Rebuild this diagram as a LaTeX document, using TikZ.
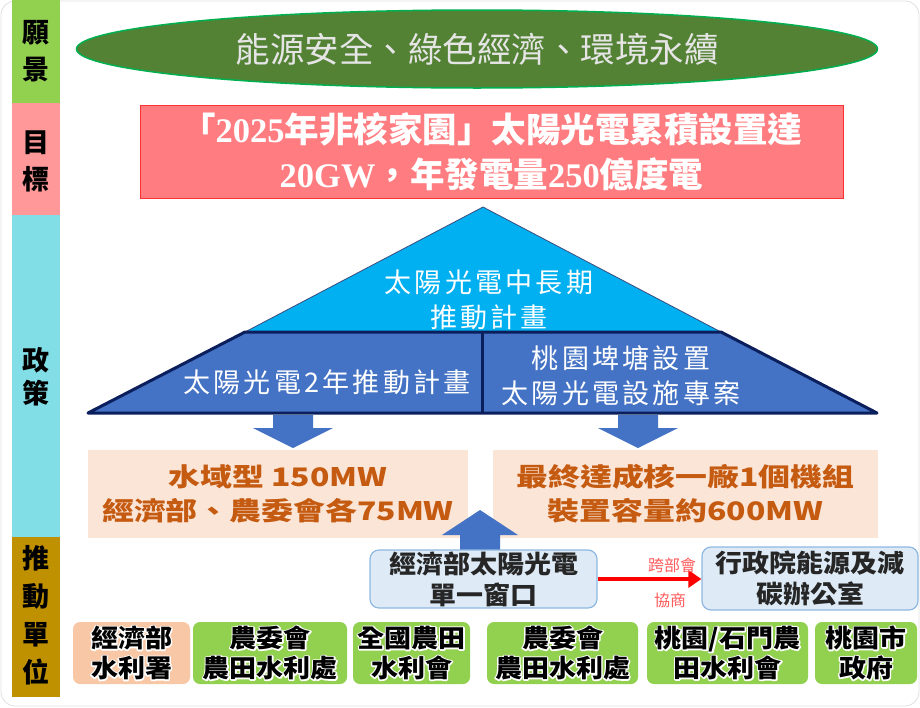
\documentclass[tikz,border=0pt]{standalone}
\usepackage{graphicx}
\usepackage{fontspec}
\newfontfamily\cjk{Noto Sans CJK TC}
\newfontfamily\cjkls[LetterSpace=12]{Noto Sans CJK TC}
\newfontfamily\tnr{Liberation Serif}
\usetikzlibrary{shapes.geometric,arrows.meta}
\definecolor{colGreen}{HTML}{92D050}
\definecolor{colPink}{HTML}{FF9999}
\definecolor{colCyan}{HTML}{82DEE6}
\definecolor{colGold}{HTML}{BF9000}
\definecolor{ellFill}{HTML}{548235}
\definecolor{ellLine}{HTML}{00B050}
\definecolor{tgtFill}{HTML}{FF7C80}
\definecolor{tgtLine}{HTML}{FF3030}
\definecolor{pyrTop}{HTML}{00B0F0}
\definecolor{pyrBot}{HTML}{4472C4}
\definecolor{navy}{HTML}{0B1F5C}
\definecolor{peach}{HTML}{FBE5D6}
\definecolor{rust}{HTML}{C55A11}
\definecolor{winFill}{HTML}{DEEBF7}
\definecolor{winLine}{HTML}{8FB8E0}
\definecolor{unitOrange}{HTML}{F8C8A6}
\definecolor{unitGreen}{HTML}{92D050}
\definecolor{coordRed}{HTML}{FF5A5A}
\newcommand{\halo}[1]{\leavevmode\rlap{\special{pdf:literal direct 1 Tr 2.6 w 1 1 1 RG 1 j}#1\special{pdf:literal direct 0 Tr 0 0 0 RG 0.4 w}}#1}
\newcommand{\hsx}[2]{\scalebox{#1}[1]{#2}}
\newcommand{\uline}[1]{\hsx{1.08}{\halo{#1}}}
\tikzset{
  collbl/.style={align=center, text=black, inner sep=0pt},
  pyrtxt/.style={align=center, text=white, inner sep=0pt, font=\cjkls\fontsize{27}{35}\selectfont},
  resbox/.style={fill=peach, draw=none, align=center, text=rust, inner sep=0pt,
    font=\cjk\bfseries\fontsize{25.5}{34}\selectfont},
  winbox/.style={fill=winFill, draw=winLine, line width=1.2pt, rounded corners=9pt, align=center,
    text=black!85, inner sep=0pt, font=\cjk\bfseries\fontsize{25}{31}\selectfont},
  unitbox/.style={rounded corners=7pt, align=center, inner sep=0pt, minimum height=62pt,
    text=black, font=\cjk\bfseries\fontsize{25}{30}\selectfont},
  blockarrow/.style={fill=pyrBot, draw=none},
  redlbl/.style={text=coordRed, inner sep=0pt, font=\cjk\fontsize{16}{18}\selectfont}
}
\begin{document}
\begin{tikzpicture}[x=1pt,y=-1pt]
\useasboundingbox (0,0) rectangle (920,707);
\draw[black!12, line width=0.8pt, rounded corners=14pt] (1,1) rectangle (919,706);
% left column
\fill[colGreen] (12,0) rectangle (60,103);
\fill[colPink] (12,103) rectangle (60,215);
\fill[colCyan] (12,215) rectangle (60,537);
\fill[colGold] (12,537) rectangle (60,697);
\node[collbl, font=\cjk\bfseries\fontsize{27}{37}\selectfont] (lvision) at (36,51.5) {願\\景};
\node[collbl, font=\cjk\bfseries\fontsize{27}{37}\selectfont] (lgoal) at (36,161.5) {目\\標};
\node[collbl, font=\cjk\bfseries\fontsize{27}{33}\selectfont] (lpolicy) at (36,376.5) {政\\策};
\node[collbl, font=\cjk\bfseries\fontsize{27}{38}\selectfont] (lunit) at (36,615.5) {推\\動\\單\\位};
% vision
\node[ellipse, fill=ellFill, draw=ellLine, line width=1.5pt, minimum width=801pt, minimum height=78pt,
  inner sep=0pt, text=white!90!black, font=\cjk\fontsize{34.5}{37}\selectfont] (vision) at (477,49)
  {能源安全、綠色經濟、環境永續};
% goal
\node[fill=tgtFill, draw=tgtLine, line width=1pt, minimum width=703pt, minimum height=93pt,
  align=center, text=white, inner sep=0pt, font=\cjk\bfseries\fontsize{34.5}{45}\selectfont] (goal) at (491.5,152)
  {「{\tnr\bfseries 2025}年非核家園」太陽光電累積設置達\\{\tnr\bfseries 20GW}，年發電量{\tnr\bfseries 250}億度電};
% pyramid
\coordinate (apex) at (483,207);
\coordinate (tl) at (245,332);
\coordinate (tr) at (721,332);
\coordinate (bl) at (88,413);
\coordinate (br) at (877,413);
\coordinate (dtop) at (482,332);
\coordinate (dbot) at (482,413);
\filldraw[fill=pyrTop, draw=navy!80, line width=0.8pt] (apex) -- (tr) -- (tl) -- cycle;
\filldraw[fill=pyrBot, draw=navy, line width=3pt, line join=round] (tl) -- (tr) -- (br) -- (bl) -- cycle;
\draw[navy, line width=3pt] (dtop) -- (dbot);
\node[pyrtxt] (plong) at (489,299.5) {太陽光電中長期\\推動計畫};
\node[pyrtxt] (p2yr) at (327,382) {太陽光電2年推動計畫};
\node[pyrtxt] (ptao) at (621,375.5) {桃園埤塘設置\\太陽光電設施專案};
% down block arrows
\fill[blockarrow] (273,415) -- (313,415) -- (313,428) -- (333,428) -- (293,448) -- (253,428) -- (273,428) -- cycle;
\fill[blockarrow] (618,415) -- (658,415) -- (658,428) -- (678,428) -- (638,448) -- (598,428) -- (618,428) -- cycle;
% result boxes
\node[resbox, minimum width=380pt, minimum height=88pt] (oleft) at (278,494)
  {\hsx{1.25}{水域型 150MW}\\\hsx{1.25}{經濟部、農委會各75MW}};
\node[resbox, minimum width=385pt, minimum height=88pt] (oright) at (685.5,494)
  {\hsx{1.25}{最終達成核一廠1個機組}\\\hsx{1.25}{裝置容量約600MW}};
% up block arrow
\fill[blockarrow] (460,555) -- (500,555) -- (500,535) -- (518,535) -- (480,510) -- (442,535) -- (460,535) -- cycle;
% window boxes
\node[winbox, minimum width=227pt, minimum height=58pt] (win) at (483.5,579)
  {\hsx{1.08}{經濟部太陽光電}\\\hsx{1.08}{單一窗口}};
\node[winbox, minimum width=216pt, minimum height=63pt] (ey) at (810,578.5)
  {\hsx{1.08}{行政院能源及減}\\\hsx{1.08}{碳辦公室}};
\draw[red, line width=4pt, -{Triangle[length=13pt,width=17pt]}] (win.east) -- (win.east -| ey.west);
\node[redlbl] (lcross) at (672,565) {跨部會};
\node[redlbl] (lneg) at (670,600) {協商};
% unit boxes
\node[unitbox, fill=unitOrange, minimum width=117pt] (u1) at (131.5,653) {\uline{經濟部}\\\uline{水利署}};
\node[unitbox, fill=unitGreen, minimum width=154pt] (u2) at (270,653) {\uline{農委會}\\\uline{農田水利處}};
\node[unitbox, fill=unitGreen, minimum width=117pt] (u3) at (411.5,653) {\uline{全國農田}\\\uline{水利會}};
\node[unitbox, fill=unitGreen, minimum width=151pt] (u4) at (562.5,653) {\uline{農委會}\\\uline{農田水利處}};
\node[unitbox, fill=unitGreen, minimum width=161pt] (u5) at (727.5,653) {\uline{桃園/石門農}\\\uline{田水利會}};
\node[unitbox, fill=unitGreen, minimum width=102pt] (u6) at (866,653) {\uline{桃園市}\\\uline{政府}};
\end{tikzpicture}
\end{document}
